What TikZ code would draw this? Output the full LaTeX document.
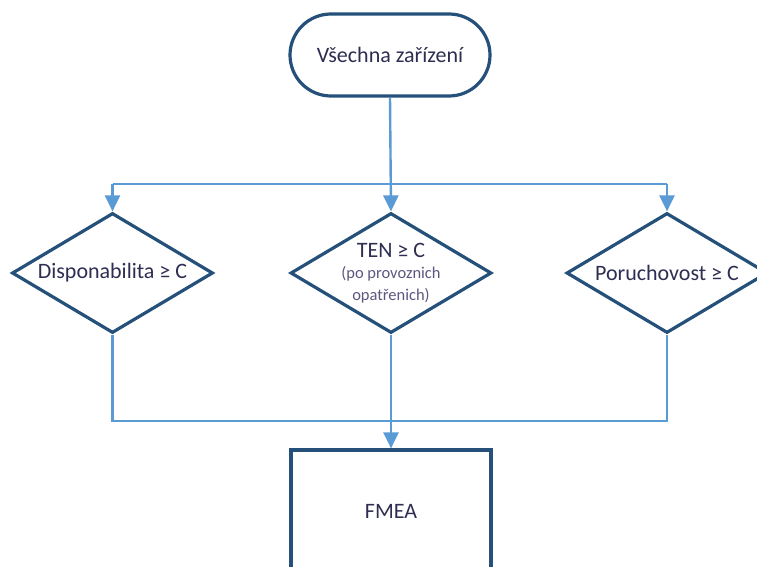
\documentclass[tikz,border=0pt]{standalone}
\usepackage{fontspec}
\setmainfont{Carlito}
\usetikzlibrary{shapes.geometric,arrows.meta}

\definecolor{shapeline}{HTML}{24507A}
\definecolor{connline}{HTML}{5B9BD5}
\definecolor{maintext}{HTML}{2E2E52}
\definecolor{subtext}{HTML}{5E5580}

\tikzset{
  shapebase/.style={draw=shapeline, line width=3.2pt, fill=white, inner sep=0pt},
  terminal/.style={shapebase, rectangle, rounded corners=41pt,
    minimum width=200pt, minimum height=82pt},
  decision/.style={shapebase, diamond, minimum width=201pt, minimum height=120pt},
  process/.style={shapebase, rectangle, minimum width=200pt, minimum height=122pt},
  label/.style={text=maintext, font=\fontsize{22}{26}\selectfont, inner sep=0pt},
  sublabel/.style={text=subtext, font=\fontsize{16.5}{22}\selectfont, inner sep=0pt,
    align=center},
  conn/.style={draw=connline, line width=2.4pt},
  arr/.style={conn, -{Triangle[length=16pt,width=15pt,fill=connline]}},
}

\begin{document}
\begin{tikzpicture}[x=1pt,y=-1pt]
  \clip (0,0) rectangle (757,567);
  \fill[white] (0,0) rectangle (757,567);

  % shapes
  \node[terminal] (start) at (390,55) {};
  \node[decision] (d1) at (112.5,273) {};
  \node[decision] (d2) at (391,273) {};
  \node[decision] (d3) at (667,273) {};
  \node[process]  (fmea) at (391,511) {};

  % texts
  \node[label] (tstart) at (start) {Všechna zařízení};
  \node[label] (td1) at (d1) {Disponabilita ≥ C};
  \node[label] (td2) at (391,250) {TEN ≥ C};
  \node[sublabel] (td2b) at (391,285) {(po provoznich\\opatřenich)};
  \node[label] (td3) at (d3) {Poruchovost ≥ C};
  \node[label] (tfmea) at (fmea) {FMEA};

  % junction points of the connectors
  \coordinate (split) at (391,184);
  \coordinate (join) at (391,421);

  % distribution to the three checks
  \draw[conn] (d1.north |- split) -- (d3.north |- split);
  \draw[arr] (start.south) -- (d2.north);
  \draw[arr] (d1.north |- split) -- (d1.north);
  \draw[arr] (d3.north |- split) -- (d3.north);

  % merging into FMEA
  \draw[conn] (d1.south) |- (join) -| (d3.south);
  \draw[arr] (d2.south) -- (fmea.north);
\end{tikzpicture}
\end{document}
